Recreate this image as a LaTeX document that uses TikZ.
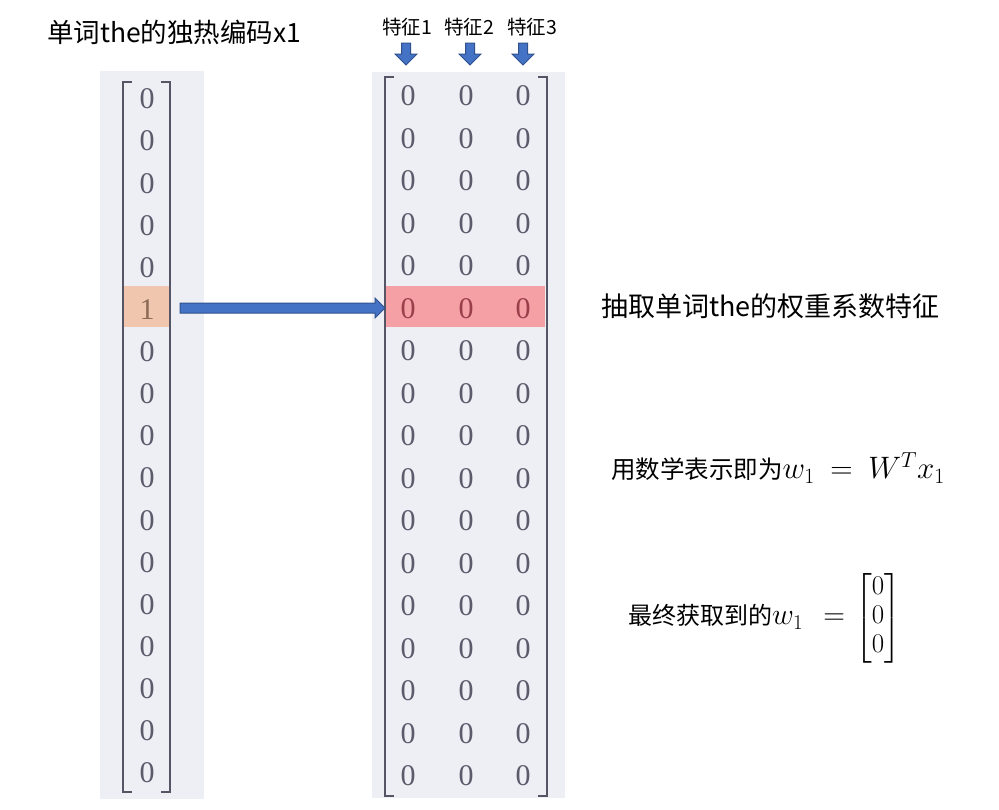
\RequirePackage{fix-cm}
\documentclass[tikz,border=0pt]{standalone}
\usepackage{amsmath}
\usepackage{fontspec}
\newfontfamily\cjk{Noto Sans CJK SC}
\newfontfamily\digitfont{Liberation Serif}
\definecolor{panelbg}{HTML}{EEEFF4}
\definecolor{zgray}{HTML}{5A5C6C}
\definecolor{brkc}{HTML}{555566}
\definecolor{orangehl}{HTML}{F1C6AE}
\definecolor{redhl}{HTML}{F4A0A5}
\definecolor{reddigit}{HTML}{9A3F4A}
\definecolor{orangedigit}{HTML}{8C6A55}
\definecolor{arrowfill}{HTML}{4472C4}
\definecolor{arrowline}{HTML}{2F528F}
\begin{document}
\begin{tikzpicture}[x=1pt,y=-1pt,
  digit/.style={font=\digitfont\fontsize{30}{30}\selectfont, text=zgray, inner sep=0pt},
  brk/.style={draw=brkc, line width=2.6pt},
  blockarrow/.style={fill=arrowfill, draw=arrowline, line width=1pt, line join=miter},
  cjklabel/.style={font=\cjk\fontsize{19.5}{22}\selectfont, inner sep=0pt},
  cjktext/.style={font=\cjk\fontsize{24}{29}\selectfont, inner sep=0pt, anchor=west}]
\useasboundingbox (0,0) rectangle (999,809);
\fill[white] (0,0) rectangle (999,809);
% panels
\fill[panelbg] (100,71) rectangle (204,799);
\fill[panelbg] (372,72) rectangle (565,798);
\fill[orangehl] (123,286) rectangle (169,327);
\fill[redhl] (386,286) rectangle (545,327);
% brackets
\draw[brk] (132,82) -- (123,82) -- (123,792) -- (132,792);
\draw[brk] (161,82) -- (170,82) -- (170,792) -- (161,792);
\draw[brk] (394,77) -- (385,77) -- (385,796) -- (394,796);
\draw[brk] (538,77) -- (547,77) -- (547,796) -- (538,796);
% left vector digits
\foreach \i in {0,...,16} {
  \ifnum\i=5
    \node[digit, text=orangedigit] (x\i) at (147,{99+42.125*\i}) {1};
  \else
    \node[digit] (x\i) at (147,{99+42.125*\i}) {0};
  \fi
}
% right matrix digits
\foreach \i in {0,...,16} {
  \ifnum\i=5
    \node[digit, text=reddigit] (a\i) at (408,{96+42.5*\i}) {0};
    \node[digit, text=reddigit] (b\i) at (466,{96+42.5*\i}) {0};
    \node[digit, text=reddigit] (c\i) at (523,{96+42.5*\i}) {0};
  \else
    \node[digit] (a\i) at (408,{96+42.5*\i}) {0};
    \node[digit] (b\i) at (466,{96+42.5*\i}) {0};
    \node[digit] (c\i) at (523,{96+42.5*\i}) {0};
  \fi
}
% feature labels
\node[cjklabel] (f1) at (407,27) {特征1};
\node[cjklabel] (f2) at (469,27) {特征2};
\node[cjklabel] (f3) at (532,27) {特征3};
% down arrows
\foreach \cx in {406,470,523} {
  \draw[blockarrow] (\cx-4.5,43) -- (\cx+4.5,43) -- (\cx+4.5,54) -- (\cx+11,54)
    -- (\cx,65) -- (\cx-11,54) -- (\cx-4.5,54) -- cycle;
}
% main arrow
\draw[blockarrow] (180,303) -- (375,303) -- (375,298) -- (385,308) -- (375,318)
  -- (375,313) -- (180,313) -- cycle;
% texts
\node[cjktext, font=\cjk\fontsize{26.5}{30}\selectfont] (title) at (47,32) {单词the的独热编码x1};
\node[cjktext, font=\cjk\fontsize{27}{32}\selectfont] (extract) at (601,306) {抽取单词the的权重系数特征};
\node[cjktext, font=\cjk\fontsize{24.5}{29}\selectfont] (formula) at (611,468)
  {用数学表示即为{\fontsize{31}{36}\selectfont$w_1\ =\ W^Tx_1$}};
\node[cjktext] (final) at (628,618)
  {最终获取到的{\fontsize{30}{36}\selectfont$w_1\ \,=\,$}\ {\fontsize{27}{29}\selectfont$\begin{bmatrix}0\\0\\0\end{bmatrix}$}};
\end{tikzpicture}
\end{document}
